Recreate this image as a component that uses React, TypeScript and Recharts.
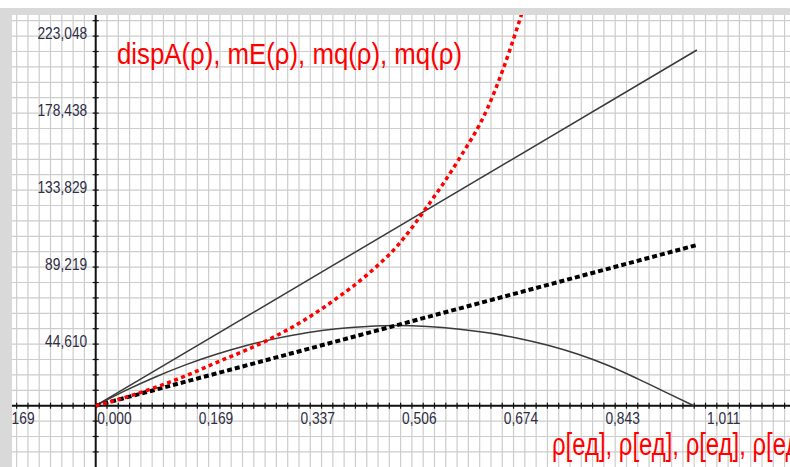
import React from "react";
import { LineChart, Line, XAxis, YAxis, CartesianGrid, ReferenceLine } from "recharts";

// ρ sample points and read-off values
const rhoCurve = [0, 0.05, 0.1, 0.15, 0.2, 0.25, 0.3, 0.35, 0.4, 0.45, 0.5, 0.55, 0.6, 0.65, 0.7, 0.75, 0.8, 0.85, 0.9, 0.95, 0.992];
const mqArc = [0, 8900, 16800, 23800, 29800, 34900, 39000, 42300, 44600, 45900, 46400, 45900, 44500, 42200, 39100, 35000, 29800, 23300, 15400, 7000, 0];

const rhoRed = [0, 0.05, 0.1, 0.15, 0.2, 0.25, 0.3, 0.35, 0.4, 0.45, 0.5, 0.55, 0.6, 0.65, 0.7, 0.75];
const dispA = [0, 4900, 10700, 17400, 25000, 32300, 40600, 50500, 62300, 75800, 92500, 115500, 141500, 172500, 220000, 280000];

const rhoLine = [0, 0.997];
const mE = [0, 206070];
const mqDotted = [0, 93100];

const xLabelVals = [-0.16855, 0, 0.16855, 0.3371, 0.50566, 0.67421, 0.84276, 1.01131];
const xLabelText = ["-0,169", "0,000", "0,169", "0,337", "0,506", "0,674", "0,843", "1,011"];
const yLabelVals = [44609.6, 89219.2, 133828.8, 178438.4, 223048];
const yLabelText = ["44,610", "89,219", "133,829", "178,438", "223,048"];

const RHO_STEP = 0.018728;
const V_STEP = 8921.9;
const gridX = Array.from({ length: 69 }, (_, i) => (i - 7) * RHO_STEP);
const gridY = Array.from({ length: 29 }, (_, i) => (i - 3) * V_STEP);

const TICK_V = 1738; // half tick length in value units (~3px)
const TICK_R = 0.005; // half tick length in rho units (~3px)

const zip = (xs: number[], ys: number[]) => xs.map((r, i) => ({ r, v: ys[i] }));

const FONT = "'Liberation Sans', Arial, sans-serif";
const LABEL_COLOR = "#2e2e44";

const xLabel = (text: string) => (props: any) => {
  const vb = props.viewBox;
  return (
    <text transform={`translate(${vb.x + 1.5},${vb.y + 20.8}) scale(0.81,1)`} fontSize={17} fontFamily={FONT} fill={LABEL_COLOR}>
      {text}
    </text>
  );
};

const yLabel = (text: string) => (props: any) => {
  const vb = props.viewBox;
  return (
    <text transform={`translate(${vb.x - 5.5},${vb.y + 17.8}) scale(0.81,1)`} textAnchor="end" fontSize={17} fontFamily={FONT} fill={LABEL_COLOR}>
      {text}
    </text>
  );
};

const noTick = () => <g />;

export default function App() {
  return (
    <div style={{ position: "absolute", left: 0, top: 0, width: 790, height: 467, background: "#fff", overflow: "hidden" }}>
      <LineChart width={790} height={467} margin={{ top: 15, right: 0, bottom: 0, left: 12 }}>
        <CartesianGrid stroke="#cdcdcd" strokeWidth={1.2} verticalValues={gridX} horizontalValues={gridY} />
        <XAxis
          type="number"
          dataKey="r"
          domain={[-0.1388, 1.1514]}
          ticks={gridX}
          interval={0}
          allowDataOverflow
          height={0}
          tick={noTick}
          axisLine={false}
          tickLine={false}
        />
        <YAxis
          type="number"
          dataKey="v"
          domain={[-35514, 226352]}
          ticks={gridY}
          interval={0}
          allowDataOverflow
          width={0}
          tick={noTick}
          axisLine={false}
          tickLine={false}
        />
        <ReferenceLine x={0} stroke="#111" strokeWidth={2} />
        <ReferenceLine y={0} stroke="#111" strokeWidth={2} />
        {gridX.map((g) => (
          <ReferenceLine key={`tx${g}`} segment={[{ x: g, y: -TICK_V }, { x: g, y: TICK_V }]} stroke="#111" strokeWidth={1.2} ifOverflow="visible" />
        ))}
        {gridY.map((g) => (
          <ReferenceLine key={`ty${g}`} segment={[{ x: -TICK_R, y: g }, { x: TICK_R, y: g }]} stroke="#111" strokeWidth={1.2} ifOverflow="visible" />
        ))}
        {xLabelVals.map((val, i) => (
          <ReferenceLine
            key={`lx${i}`}
            segment={[{ x: val, y: -TICK_V }, { x: val, y: TICK_V }]}
            stroke="#111"
            strokeOpacity={0}
            ifOverflow="visible"
            label={xLabel(xLabelText[i])}
          />
        ))}
        {yLabelVals.map((val, i) => (
          <ReferenceLine
            key={`ly${i}`}
            segment={[{ x: -TICK_R, y: val }, { x: TICK_R, y: val }]}
            stroke="#111"
            strokeOpacity={0}
            ifOverflow="visible"
            label={yLabel(yLabelText[i])}
          />
        ))}
        <Line data={zip(rhoLine, mE)} dataKey="v" type="linear" stroke="#3a3a3a" strokeWidth={1.5} dot={false} activeDot={false} isAnimationActive={false} />
        <Line data={zip(rhoCurve, mqArc)} dataKey="v" type="monotone" stroke="#3a3a3a" strokeWidth={1.5} dot={false} activeDot={false} isAnimationActive={false} />
        <Line data={zip(rhoLine, mqDotted)} dataKey="v" type="linear" stroke="#000" strokeWidth={4} strokeDasharray="5 3" dot={false} activeDot={false} isAnimationActive={false} />
        <Line data={zip(rhoRed, dispA)} dataKey="v" type="monotone" stroke="#ff0000" strokeWidth={3.5} strokeDasharray="4 3.5" dot={false} activeDot={false} isAnimationActive={false} />
      </LineChart>
      <svg width={790} height={467} style={{ position: "absolute", left: 0, top: 0, pointerEvents: "none" }}>
        <rect x={0} y={8} width={790} height={7} fill="#d9d9d9" />
        <rect x={0} y={8} width={12} height={459} fill="#d9d9d9" />
        <text x={117} y={64} fontSize={30} fontFamily={FONT} fill="#ff0000" textLength={345} lengthAdjust="spacingAndGlyphs">
          dispA(ρ), mE(ρ), mq(ρ), mq(ρ)
        </text>
        <text x={552} y={455} fontSize={31} fontFamily={FONT} fill="#ff0000" textLength={254} lengthAdjust="spacingAndGlyphs">
          ρ[ед], ρ[ед], ρ[ед], ρ[ед]
        </text>
      </svg>
    </div>
  );
}
